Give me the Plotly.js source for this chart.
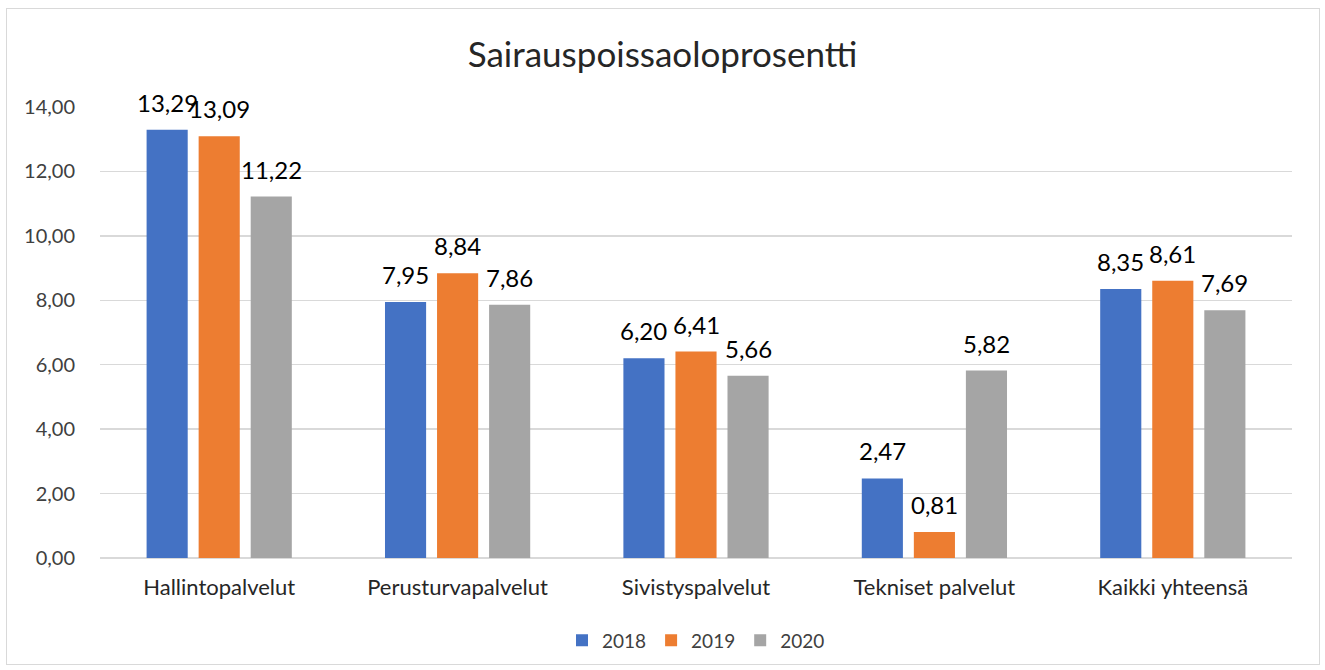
<!DOCTYPE html>
<html>
<head>
<meta charset="utf-8">
<script src="https://cdn.plot.ly/plotly-3.0.1.min.js"></script>
<style>
body{margin:0;background:#fff;}
#frame{position:absolute;left:6px;top:8px;width:1312px;height:655px;border:1px solid #d9d9d9;pointer-events:none;z-index:10;}
</style>
</head>
<body>
<div id="chart" style="width:1325px;height:670px;"></div>
<div id="frame"></div>
<script>
const categories = ["Hallintopalvelut","Perusturvapalvelut","Sivistyspalvelut","Tekniset palvelut","Kaikki yhteensä"];
const v2018 = [13.29, 7.95, 6.20, 2.47, 8.35];
const v2019 = [13.09, 8.84, 6.41, 0.81, 8.61];
const v2020 = [11.22, 7.86, 5.66, 5.82, 7.69];
const seriesNames = ["2018","2019","2020"];
const colors = ["#4472c4","#ed7d31","#a5a5a5"];
const yTicks = [0,2,4,6,8,10,12,14];

const font = "Lato, 'Open Sans', sans-serif";
const bargap = 0.345;
const series = [v2018, v2019, v2020];
const data = series.map((vals, i) => ({
  type: 'bar',
  name: seriesNames[i],
  x: categories,
  y: vals,
  marker: {color: colors[i]},
  hoverinfo: 'skip'
}));

// value labels via annotations positioned on the category axis (fractional category index)
const slot = (1 - bargap) / series.length;
const annotations = [];
series.forEach((vals, i) => {
  vals.forEach((v, j) => {
    annotations.push({
      x: j + (i - (series.length - 1) / 2) * slot,
      y: v, xref: 'x', yref: 'y',
      text: v.toFixed(2).replace('.', ','),
      showarrow: false, yanchor: 'bottom', xanchor: 'center', yshift: 11,
      font: {family: font, size: 24, color: '#000'}
    });
  });
});

const layout = {
  width: 1325, height: 670,
  separators: ', ',
  paper_bgcolor: '#fff', plot_bgcolor: '#fff',
  margin: {l: 100, r: 33, t: 107, b: 111},
  title: {text: 'Sairauspoissaoloprosentti', x: 0.5, xanchor: 'center', y: 0.918, yanchor: 'middle',
          font: {family: font, size: 35, color: '#262626'}},
  barmode: 'group',
  bargap: bargap,
  bargroupgap: 0.21,
  showlegend: true,
  legend: {orientation: 'h', x: 0.5, xanchor: 'center', y: -0.18, yanchor: 'middle',
           font: {family: font, size: 19, color: '#404040'}, itemwidth: 30, traceorder: 'normal'},
  xaxis: {type: 'category', tickfont: {family: font, size: 22, color: '#262626'},
          showline: false, ticks: '', showgrid: false, ticklabelstandoff: 14},
  yaxis: {range: [0, 14], tickvals: yTicks, tickformat: '.2f',
          tickfont: {family: font, size: 20, color: '#404040'},
          showgrid: true, gridcolor: '#d9d9d9', gridwidth: 1.5,
          zeroline: true, zerolinecolor: '#d9d9d9', zerolinewidth: 1.5,
          showline: false, ticks: '', ticklabelstandoff: 24},
  annotations: annotations
};

Plotly.newPlot('chart', data, layout, {displayModeBar: false, staticPlot: true});
</script>
</body>
</html>
